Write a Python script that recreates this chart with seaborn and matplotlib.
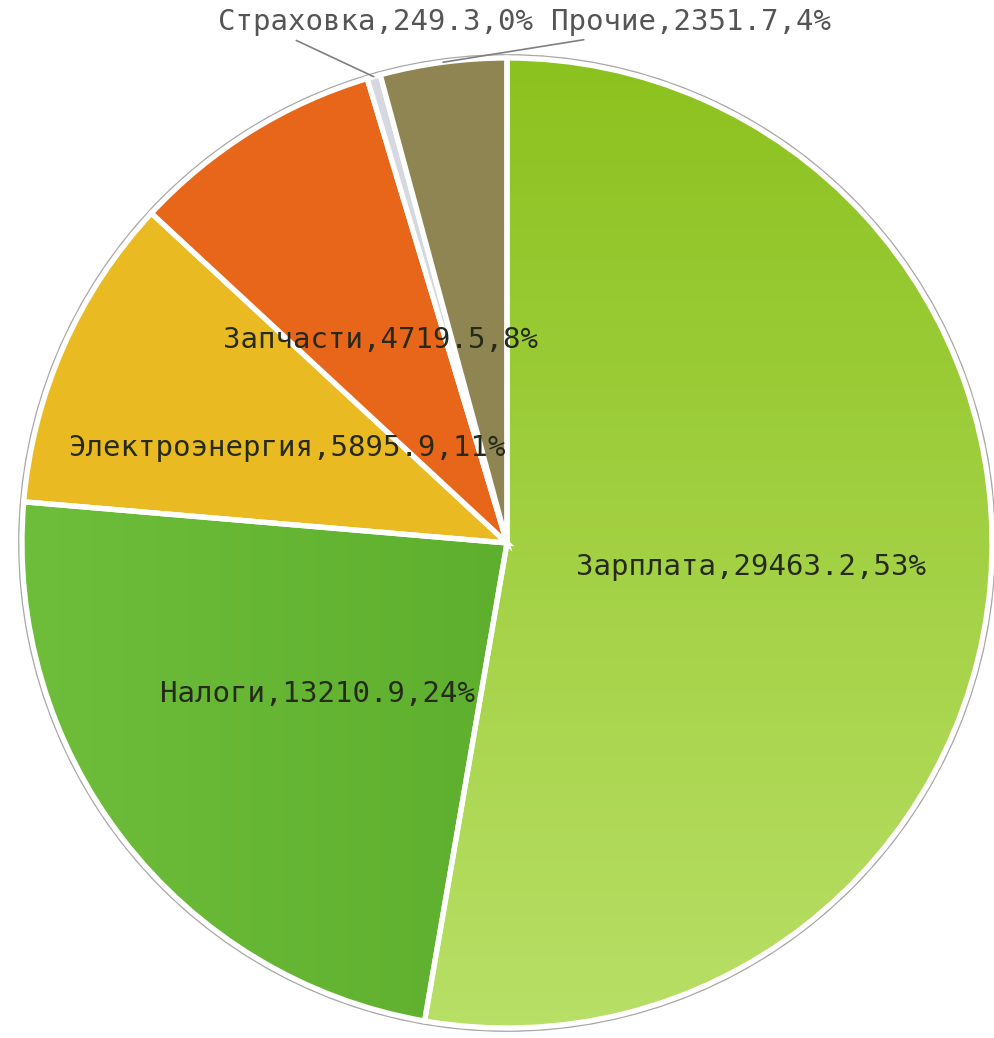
import numpy as np
import matplotlib
matplotlib.use("Agg")
import matplotlib.pyplot as plt
import seaborn as sns
from matplotlib.colors import LinearSegmentedColormap
from matplotlib.patches import Circle

# ---- data ----
categories = ["Зарплата", "Налоги", "Электроэнергия", "Запчасти", "Страховка", "Прочие"]
values = [29463.2, 13210.9, 5895.9, 4719.5, 249.3, 2351.7]
colors = ["#92C424", "#58A626", "#E9BA22", "#E8661A", "#D5D8E0", "#8E8553"]

sns.set_theme(style="white")
plt.rcParams["font.family"] = ["DejaVu Sans Mono", "DejaVu Sans"]

W, H = 994, 1038
fig = plt.figure(figsize=(W / 100, H / 100), dpi=100)
ax = fig.add_axes([0, 0, 1, 1])
cx, cy, R = 507, H - 543, 485

total = sum(values)
labels = [f"{c},{v:.1f},{round(v / total * 100):.0f}%" for c, v in zip(categories, values)]

# outer thin gray ring
ax.add_patch(Circle((cx, cy), R + 3, facecolor="none", edgecolor="#A8A8A8", lw=1.3, zorder=0.5))

wedges, _ = ax.pie(values, colors=colors, startangle=90, counterclock=False,
                   center=(cx, cy), radius=R, frame=True,
                   wedgeprops=dict(edgecolor="white", linewidth=3.8))


def grad_fill(wedge, c0, c1, direction):
    n = 256
    if direction == "v":
        arr = np.linspace(0, 1, n).reshape(-1, 1)
    else:
        arr = np.linspace(0, 1, n).reshape(1, -1)
    cmap = LinearSegmentedColormap.from_list("g", [c0, c1])
    im = ax.imshow(arr, cmap=cmap, extent=[cx - R, cx + R, cy - R, cy + R],
                   origin="upper", aspect="auto", zorder=0.9, interpolation="bilinear")
    im.set_clip_path(wedge)
    wedge.set_facecolor("none")
    wedge.set_zorder(1.5)


grad_fill(wedges[0], "#8CC21F", "#B8DF66", "v")
grad_fill(wedges[1], "#6EBE3C", "#50A020", "h")

FS = 20.9
# inside labels
for w, lab in zip(wedges[:4], labels[:4]):
    ang = np.deg2rad((w.theta1 + w.theta2) / 2)
    x = cx + 0.5 * R * np.cos(ang)
    y = cy + 0.5 * R * np.sin(ang)
    ax.text(x + 2, y - 3, lab, ha="center", va="center", fontsize=FS, color="#262a1a", zorder=3)

# outside labels with leader lines
outside = [(4, (375, H - 22), 0.22), (5, (691, H - 22), 0.2)]
for i, pos, rp in outside:
    w = wedges[i]
    ang = np.deg2rad((w.theta1 + w.theta2) / 2)
    xy = (cx + R * np.cos(ang), cy + R * np.sin(ang))
    ax.annotate(labels[i], xy=xy, xytext=pos, ha="center", va="center",
                fontsize=FS, color="#555555", zorder=3,
                arrowprops=dict(arrowstyle="-", color="#808080", lw=1.2,
                                relpos=(rp, 0.0), shrinkA=2, shrinkB=0))

ax.set_xlim(0, W)
ax.set_ylim(0, H)
ax.set_aspect("equal")
ax.axis("off")
fig.savefig("out.png", dpi=100, facecolor="white")
